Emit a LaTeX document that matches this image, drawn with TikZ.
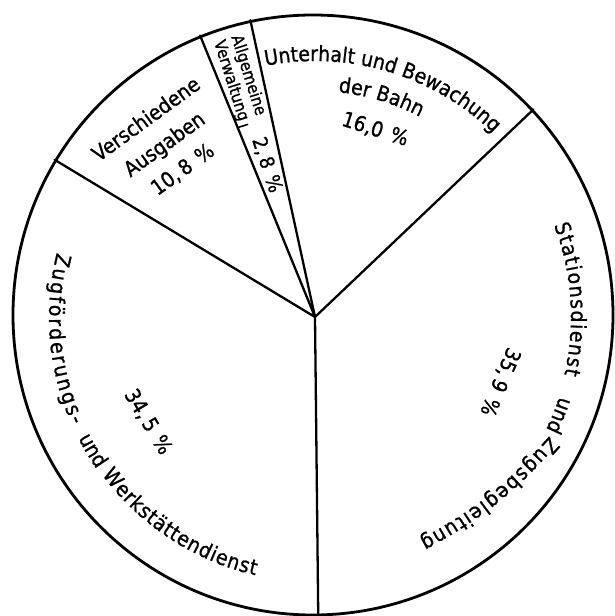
\documentclass[tikz,border=0pt]{standalone}
\usepackage{fontspec}
\setmainfont{DejaVu Sans}[FakeStretch=0.9,FakeBold=1]
\usepackage{tikz}
\usetikzlibrary{decorations.text}
\newcommand{\lbl}{\fontsize{21}{25}\selectfont}
\newcommand{\pc}{\hspace{0.4em}\%}

\begin{document}
\begin{tikzpicture}[line cap=round,line join=round,x=1pt,y=1pt,
                    spoke/.style={line width=2.3pt},
                    pct/.style={font=\lbl,inner sep=0pt},
                    curved/.style={decorate,decoration={text along path,text align=center,text={|\lbl|#1}}},
                    spread/.style={decorate,decoration={text along path,text align={fit to path},text={|\lbl|#1}}}]
                    \useasboundingbox (-315,-299) rectangle (300,317);
                    \coordinate (hub) at (0,0);
                    \node[circle,draw,line width=2.8pt,minimum size=600pt,inner sep=0pt] (pie) at (-2,2) {};
                    \foreach \a in {271,43.2,102.5,112,149.4}
                    \draw[spoke] (hub) -- (pie.\a);
                    \draw[line width=1.6pt] (112:204.5) -- (109.3:204);
                    % Unterhalt und Bewachung der Bahn
                    \path[curved={Unterhalt und Bewachung}] (102:256) arc[start angle=102,end angle=45,radius=256pt];
                    \path[curved={der Bahn}] (90:226) arc[start angle=90,end angle=56.4,radius=226pt];
                    \node[pct,rotate=-17.8] (bahnpct) at (72.2:197) {16,0\pc};
                    % Allgemeine Verwaltung
                    \node[pct,rotate=-72.5,align=center,font=\fontsize{16.5}{18}\selectfont] (allg) at (-75.5,239) {Allgemeine\\Verwaltung};
                    \node[pct,rotate=-71.6,font=\fontsize{20}{22}\selectfont] (allgpct) at (-48,152) {2,\,8\pc};
                    % Verschiedene Ausgaben
                    \node[pct,rotate=36,align=center,font=\fontsize{21}{31}\selectfont] (versch) at (-150.5,172.5) {Verschiedene\\Ausgaben\\10,\,8\pc};
                    % Zugfoerderung
                    \path[spread={Zugförderungs-}] (166:266) arc[start angle=166,end angle=204,radius=266pt];
                    \path[curved={und}] (201:266) arc[start angle=201,end angle=221,radius=266pt];
                    \path[spread={Werkstättendienst}] (216.5:265) arc[start angle=216.5,end angle=257,radius=265pt];
                    \node[pct,rotate=-59] (zugpct) at (-167,-105) {34,\,5\pc};
                    % Stationsdienst
                    \path[spread={Stationsdienst}] (21:256) arc[start angle=21,end angle=-13,radius=256pt];
                    \path[curved={und}] (-12:257) arc[start angle=-12,end angle=-32,radius=257pt];
                    \path[spread={Zugsbegleitung}] (234.5,-119) to[bend left=10] (104.7,-222.6);
                    \node[pct,rotate=-113] (statpct) at (185,-65) {35,\,9\pc};
\end{tikzpicture}
\end{document}
